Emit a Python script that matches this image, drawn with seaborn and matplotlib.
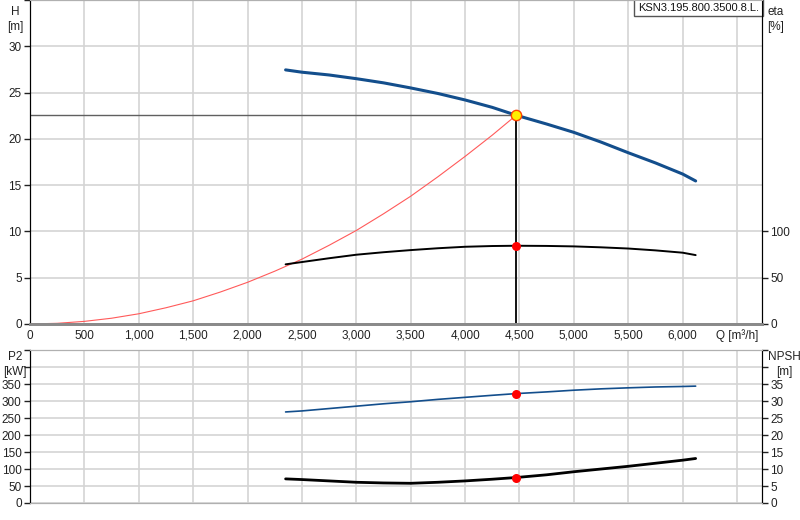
import matplotlib
matplotlib.use("Agg")
import matplotlib.pyplot as plt
import seaborn as sns
import pandas as pd

# pump curve data
q_curve = [2350, 2500, 2750, 3000, 3250, 3500, 3750, 4000, 4250, 4470,
           4750, 5000, 5250, 5500, 5750, 6000, 6120]
head = [27.45, 27.2, 26.9, 26.5, 26.05, 25.5, 24.9, 24.2, 23.4, 22.55,
        21.6, 20.7, 19.65, 18.5, 17.4, 16.2, 15.45]
eta = [64.4, 66.9, 71.0, 74.8, 77.5, 79.8, 81.8, 83.4, 84.2, 84.5,
       84.3, 83.8, 82.8, 81.5, 79.5, 77.0, 74.4]
p2 = [268, 271, 278, 285, 292, 298, 305, 311, 317, 322,
      327, 332, 336, 339, 341.5, 343, 344]
npsh = [7.1, 6.9, 6.5, 6.1, 5.9, 5.8, 6.1, 6.5, 7.0, 7.5,
        8.3, 9.2, 10.0, 10.8, 11.7, 12.6, 13.1]

q_sys = [0, 250, 500, 750, 1000, 1250, 1500, 1750, 2000, 2250, 2500,
         2750, 3000, 3250, 3500, 3750, 4000, 4250, 4470]
h_sys = [0, 0.07, 0.28, 0.62, 1.1, 1.75, 2.5, 3.45, 4.5, 5.7, 7.0,
         8.5, 10.1, 11.9, 13.8, 15.9, 18.1, 20.4, 22.55]

op_q = 4470
op_h = 22.55
op_eta = 84.5
op_p2 = 322
op_npsh = 7.5

x_ticks = [0, 500, 1000, 1500, 2000, 2500, 3000, 3500, 4000, 4500, 5000, 5500, 6000, 6500]
x_labels = ["0", "500", "1,000", "1,500", "2,000", "2,500", "3,000", "3,500", "4,000",
            "4,500", "5,000", "5,500", "6,000", "Q [m³/h]"]
pump_name = "KSN3.195.800.3500.8.L."

sns.set_style("white")
plt.rcParams['font.family'] = ['Liberation Sans', 'DejaVu Sans']
plt.rcParams['font.size'] = 8.5

fig = plt.figure(figsize=(8, 5.2), dpi=100)
ax = fig.add_axes([0.0375, 0.377, 0.915, 0.623])
ax2 = ax.twinx()
bx = fig.add_axes([0.0375, 0.0327, 0.915, 0.294])
bx2 = bx.twinx()

grid_c = "#d4d4d4"
blue = "#134e8c"
x_max = 6730
fs = 8.5

df_curve = pd.DataFrame({"Q": q_curve, "H": head, "eta": eta, "P2": p2, "NPSH": npsh})
df_sys = pd.DataFrame({"Q": q_sys, "H": h_sys})

for a in (ax, bx):
    a.set_xlim(0, x_max)
    a.set_xticks(x_ticks)
    a.grid(True, color=grid_c, lw=1.2)
    a.set_axisbelow(True)
    a.tick_params(axis="x", length=0, labelsize=fs, colors="#222")
    a.tick_params(axis="y", length=4, width=1, labelsize=fs, colors="#222", pad=2)

# upper panel: H and eta
ax.set_ylim(0, 35)
ax.set_yticks([0, 5, 10, 15, 20, 25, 30, 35])
ax.set_yticklabels(["0", "5", "10", "15", "20", "25", "30", ""])
ax.set_xticklabels(x_labels)
ax.tick_params(axis="x", pad=4)

ax.hlines(op_h, 0, op_q, color="#606060", lw=1)
ax.vlines(op_q, 0, op_h, color="black", lw=1.3)
sns.lineplot(data=df_sys, x="Q", y="H", ax=ax, color="#ff5a5a", lw=0.8)
sns.lineplot(data=df_curve, x="Q", y="H", ax=ax, color=blue, lw=2.2)
ax.scatter([op_q], [op_h], s=55, color="#ffee00", edgecolor="#ff4400", linewidth=1, zorder=5)

ax2.set_ylim(0, 350)
ax2.set_yticks([0, 50, 100])
sns.lineplot(data=df_curve, x="Q", y="eta", ax=ax2, color="black", lw=1.4)
ax2.scatter([op_q], [op_eta], s=30, color="red", zorder=5)
ax2.tick_params(axis="y", length=4, width=1, labelsize=fs, colors="#222", pad=2)

ax.set_xlabel("")
ax.set_ylabel("")
ax2.set_ylabel("")

# lower panel: P2 and NPSH
bx.set_ylim(0, 450)
bx.set_yticks(range(0, 451, 50))
bx.set_yticklabels(["0", "50", "100", "150", "200", "250", "300", "350", "", ""])
bx.set_xticklabels([])
sns.lineplot(data=df_curve, x="Q", y="P2", ax=bx, color=blue, lw=1.2)
bx.scatter([op_q], [op_p2], s=30, color="red", zorder=5)

bx2.set_ylim(0, 45)
bx2.set_yticks(range(0, 46, 5))
bx2.set_yticklabels(["0", "5", "10", "15", "20", "25", "30", "35", "", ""])
bx2.tick_params(axis="y", length=4, width=1, labelsize=fs, colors="#222", pad=2)
sns.lineplot(data=df_curve, x="Q", y="NPSH", ax=bx2, color="black", lw=2)
bx2.scatter([op_q], [op_npsh], s=30, color="red", zorder=5)

for a in (bx, bx2):
    a.set_xlabel("")
    a.set_ylabel("")

# spines
for a in (ax, ax2):
    a.spines["left"].set_color("black")
    a.spines["right"].set_color("black")
    a.spines["top"].set_color("#b0b0b0")
    a.spines["bottom"].set_color("#8a8a8a")
    a.spines["bottom"].set_linewidth(2)
for a in (bx, bx2):
    a.spines["left"].set_color("black")
    a.spines["right"].set_color("black")
    a.spines["top"].set_color("#b0b0b0")
    a.spines["bottom"].set_color("#b0b0b0")

# axis titles
fig.text(15 / 800, 1 - 6 / 520, "H\n[m]", ha="center", va="top", fontsize=fs, color="#222", linespacing=1.3)
fig.text(776 / 800, 1 - 6 / 520, "eta\n[%]", ha="center", va="top", fontsize=fs, color="#222", linespacing=1.3)
fig.text(15 / 800, 1 - 351 / 520, "P2\n[kW]", ha="center", va="top", fontsize=fs, color="#222", linespacing=1.3)
fig.text(784 / 800, 1 - 351 / 520, "NPSH\n[m]", ha="center", va="top", fontsize=fs, color="#222", linespacing=1.3)

ax.text(0.996, 0.992, pump_name, transform=ax.transAxes, ha="right", va="top", fontsize=8,
        color="#111", zorder=10,
        bbox=dict(boxstyle="square,pad=0.35", fc="white", ec="#555", lw=1))

fig.savefig("out.png", dpi=100)
